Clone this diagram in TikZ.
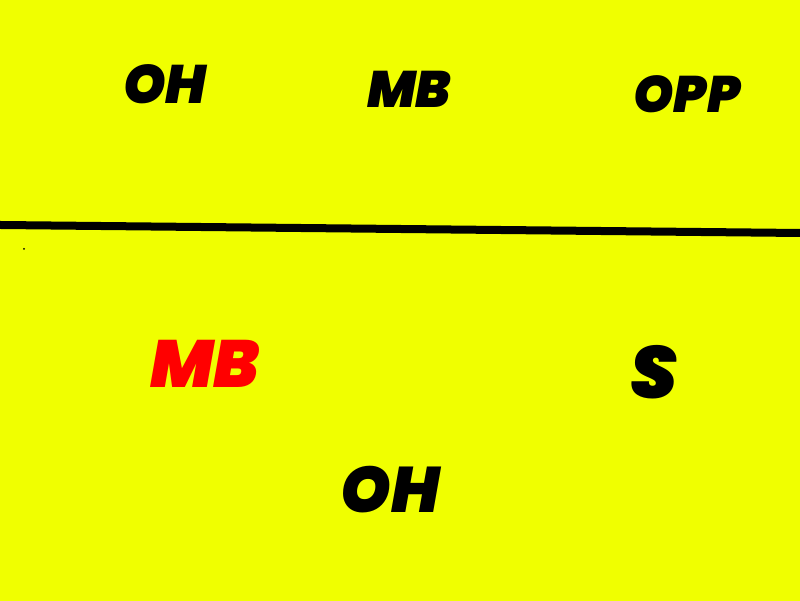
\documentclass[tikz,border=0pt]{standalone}
\usepackage{fontspec}
\setmainfont{Poppins}[BoldItalicFont={Poppins Black Italic}]
\definecolor{bg}{RGB}{240,255,0}
\def\LB#1#2#3#4{\node [lbl,font=\fontsize{#4}{#4}\selectfont\bfseries\itshape] (#1) at (#2) {#3};}
\begin{document}
\begin{tikzpicture}[lbl/.style={inner sep=0pt}]
  \fill [bg] (0,0) rectangle (8,6.01);
  \useasboundingbox (0,0) rectangle (8,6.01);
  \LB{ohtop}{1.65,5.17}{OH}{15.4pt}
  \LB{mbtop}{4.09,5.12}{MB}{14.6pt}
  \LB{opp}{6.87,5.07}{OPP}{14.6pt}
  \coordinate (netL) at (0,3.76);
  \coordinate (netR) at (8,3.68);
  \draw [line width=0.08cm] (netL) -- (netR);
  \fill (0.24,3.52) circle (0.01);
  \node [lbl,text=red,font=\fontsize{19pt}{19pt}\selectfont\bfseries\itshape] (mbred) at (2.05,2.37) {MB};
  \LB{set}{6.54,2.29}{S}{21pt}
  \LB{ohbot}{3.90,1.11}{OH}{18.3pt}
\end{tikzpicture}
\end{document}
